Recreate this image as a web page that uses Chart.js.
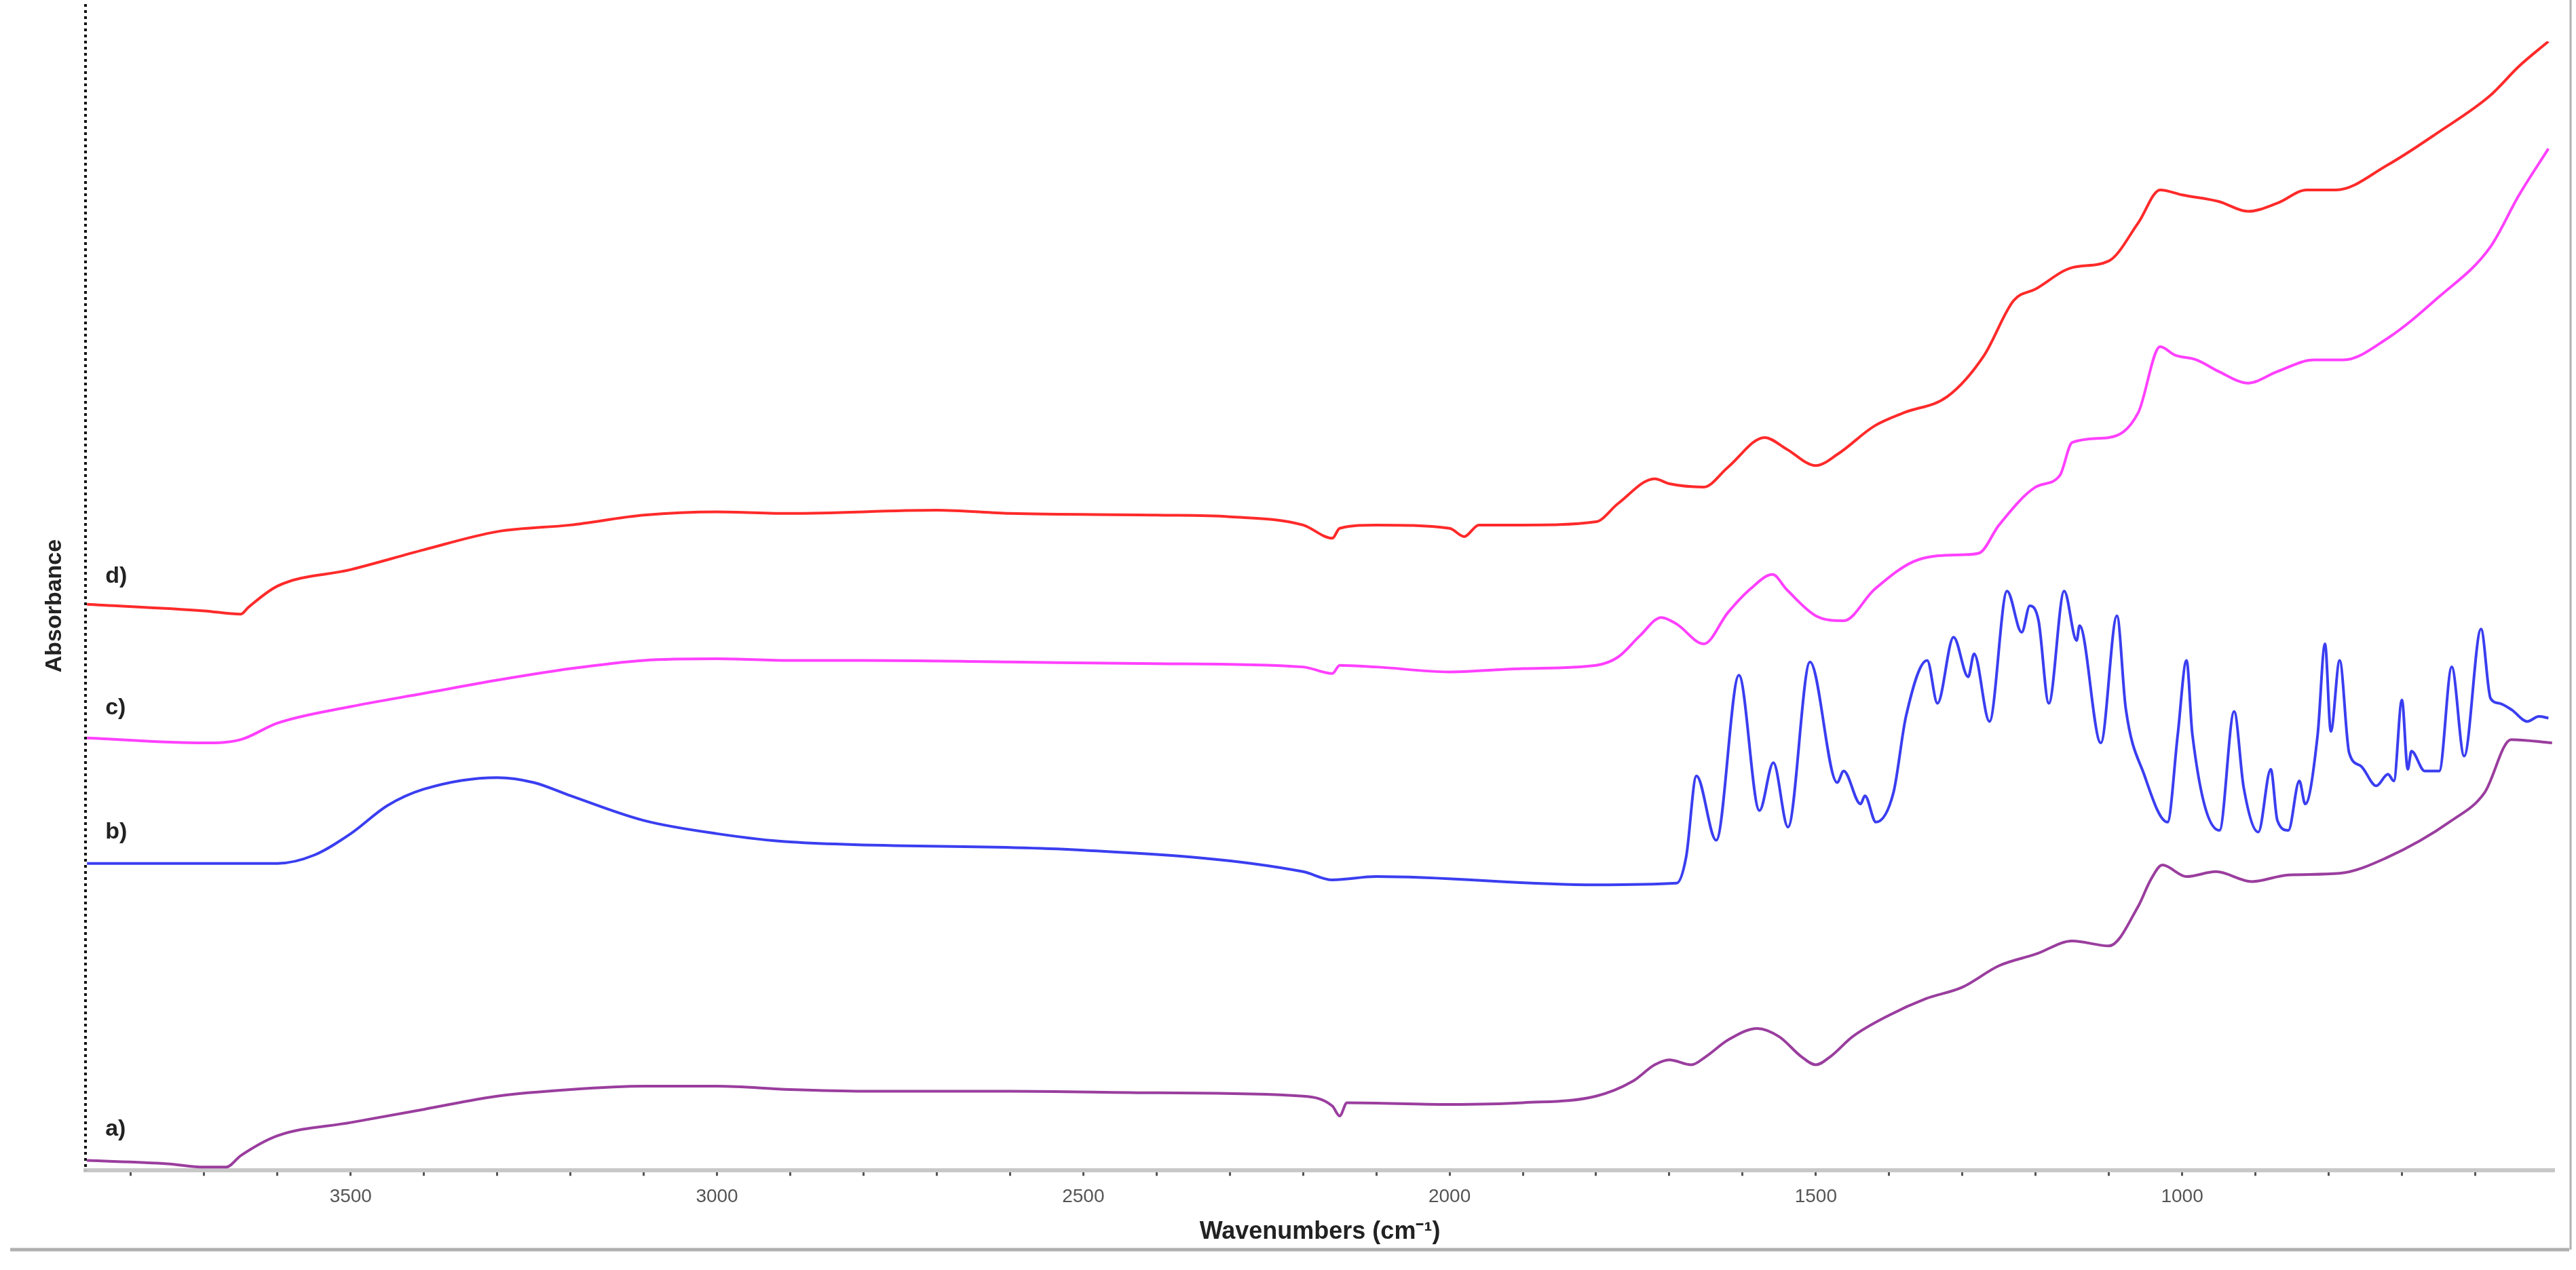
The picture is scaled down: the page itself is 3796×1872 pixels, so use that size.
<!DOCTYPE html>
<html><head><meta charset="utf-8">
<script src="https://cdn.jsdelivr.net/npm/chart.js@4"></script>
<style>html,body{margin:0;padding:0;background:#fff}#w{width:3796px;height:1872px}</style>
</head><body><div id="w"><canvas id="c"></canvas></div>
<script>
const seriesLabels = ["a)","b)","c)","d)"];
const seriesColors = ["#9a3d9e","#3a3ef0","#ff40ff","#ff2a2a"];
// [wavenumber, displayed height] pairs
const specA = [[3860,6],[3750,4],[3700,2],[3670,2],[3650,9],[3600,21],[3500,29],[3400,37],[3300,45],[3200,49],[3100,51],[3000,51],[2900,49],[2800,48],[2600,48],[2400,47],[2200,45],[2160,39],[2150,33],[2140,41],[2000,40],[1900,41],[1800,45],[1750,54],[1720,64],[1700,67],[1670,64],[1650,69],[1620,79],[1580,86],[1550,81],[1520,69],[1500,64],[1480,69],[1450,81],[1400,94],[1350,104],[1300,111],[1250,124],[1200,131],[1150,139],[1100,136],[1060,160],[1043,176],[1027,185],[994,178],[954,181],[905,175],[855,179],[785,180],[723,189],[632,212],[587,229],[551,261],[495,259]];
const specB = [[3860,186],[3600,186],[3550,191],[3500,204],[3450,221],[3400,231],[3300,238],[3250,235],[3200,227],[3100,212],[3000,204],[2900,199],[2500,194],[2200,181],[2160,176],[2100,178],[1800,173],[1690,174],[1677,190],[1663,239],[1636,200],[1605,300],[1577,218],[1558,247],[1538,208],[1508,308],[1471,235],[1462,242],[1439,222],[1433,227],[1418,211],[1394,229],[1377,275],[1348,309],[1334,283],[1312,323],[1292,299],[1284,313],[1263,272],[1239,351],[1219,326],[1208,342],[1196,333],[1182,283],[1161,351],[1144,321],[1140,330],[1111,259],[1089,336],[1077,280],[1052,240],[1020,211],[1006,264],[994,309],[986,264],[949,206],[929,278],[916,232],[896,205],[879,243],[870,212],[855,206],[840,236],[832,222],[815,264],[805,319],[797,266],[785,309],[772,253],[756,245],[735,233],[719,240],[711,236],[700,285],[692,243],[687,254],[669,242],[649,242],[632,305],[615,251],[592,328],[579,286],[567,283],[550,279],[529,272],[513,275],[500,274]];
const specC = [[3860,262],[3700,259],[3650,261],[3600,271],[3500,281],[3400,289],[3300,297],[3200,304],[3100,309],[3000,310],[2900,309],[2800,309],[2600,308],[2400,307],[2200,305],[2160,301],[2150,306],[2100,305],[2000,302],[1900,304],[1800,306],[1770,311],[1740,324],[1711,335],[1690,331],[1653,319],[1620,338],[1590,352],[1559,361],[1540,352],[1500,336],[1462,333],[1420,352],[1360,370],[1300,373],[1277,374],[1250,391],[1200,414],[1167,421],[1150,441],[1100,444],[1060,459],[1030,499],[1010,494],[980,491],[950,484],[910,477],[870,484],[820,491],[780,491],[720,504],[650,529],[580,559],[540,591],[500,619]];
const specD = [[3860,343],[3700,339],[3650,337],[3640,341],[3600,354],[3500,364],[3400,376],[3300,387],[3200,391],[3100,397],[3000,399],[2900,398],[2700,400],[2600,398],[2400,397],[2300,396],[2200,391],[2160,383],[2150,389],[2100,391],[2000,389],[1980,384],[1960,391],[1900,391],[1800,393],[1770,404],[1720,419],[1700,416],[1653,414],[1620,426],[1570,444],[1540,437],[1500,427],[1470,434],[1420,451],[1380,459],[1320,469],[1270,494],[1230,527],[1200,534],[1150,547],[1100,551],[1060,574],[1030,594],[1000,591],[950,587],[910,581],[870,586],[830,594],[790,594],[720,609],[650,629],[580,651],[540,669],[500,684]];
const labelPos = [[3835,18],[3835,198],[3835,273],[3835,353]];
const majorTicks = [1000,1500,2000,2500,3000,3500];

const toXY = a => a.map(p=>({x:p[0],y:p[1]}));
const specs=[specA,specB,specC,specD];

const deco = {
  id:'deco',
  afterDraw(ch){
    const c=ch.ctx, xs=ch.scales.x, ys=ch.scales.y;
    c.save();
    c.fillStyle='#222'; c.font='bold 34px Liberation Sans, Arial'; c.textAlign='left'; c.textBaseline='bottom';
    seriesLabels.forEach((t,i)=>c.fillText(t, xs.getPixelForValue(labelPos[i][0]), ys.getPixelForValue(labelPos[i][1])));
    c.strokeStyle='#111'; c.lineWidth=4; c.setLineDash([4,5]);
    c.beginPath(); c.moveTo(ch.chartArea.left, ch.chartArea.top-55); c.lineTo(ch.chartArea.left, ch.chartArea.bottom); c.stroke();
    c.setLineDash([]);
    c.strokeStyle='#b0b0b0'; c.lineWidth=5;
    c.beginPath(); c.moveTo(15,1842); c.lineTo(3786,1842); c.stroke();
    c.lineWidth=3; c.beginPath(); c.moveTo(3788,0); c.lineTo(3788,1842); c.stroke();
    c.restore();
  }
};

new Chart(document.getElementById('c'),{
  type:'line',
  data:{datasets:specs.map((s,i)=>({label:seriesLabels[i],data:toXY(s),borderColor:seriesColors[i],borderWidth:4,pointRadius:0,tension:0.35,cubicInterpolationMode:'monotone',fill:false}))},
  options:{
    responsive:true,maintainAspectRatio:false,animation:false,
    layout:{padding:{left:0,right:32,top:61,bottom:30}},
    plugins:{legend:{display:false},tooltip:{enabled:false}},
    scales:{
      x:{type:'linear',reverse:true,min:492,max:3862,
        afterBuildTicks(s){const t=[];for(let v=600;v<=3800;v+=100)t.push({value:v});s.ticks=t;},
        ticks:{autoSkip:false,maxRotation:0,color:'#555',font:{size:28,family:'Liberation Sans'},padding:14,callback:v=>majorTicks.includes(v)?String(v):''},
        grid:{drawOnChartArea:false,color:'#555',tickLength:8,tickWidth:3},
        border:{color:'#c8c8c8',width:6},
        title:{display:true,text:'Wavenumbers (cm\u207B\u00B9)',color:'#222',font:{size:36,weight:'bold',family:'Liberation Sans'},padding:{top:0}}
      },
      y:{min:0,max:684,ticks:{display:false},grid:{display:false},border:{display:false},
        title:{display:true,text:'Absorbance',color:'#222',font:{size:34,weight:'bold',family:'Liberation Sans'},padding:{top:60,bottom:14}},
        afterFit(s){s.width=126;}
      }
    }
  },
  plugins:[deco]
});
</script></body></html>
